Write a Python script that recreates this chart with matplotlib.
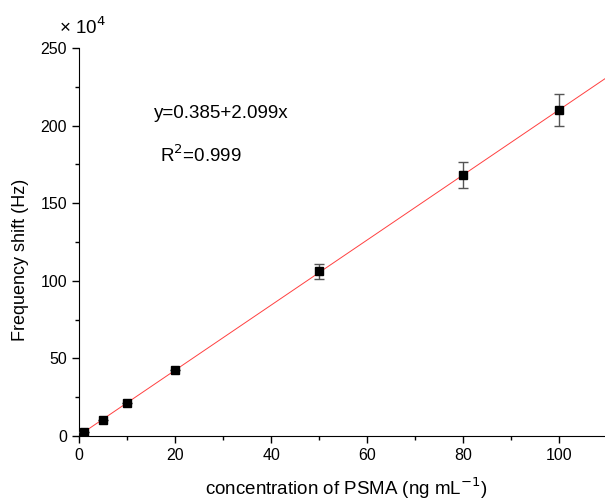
import numpy as np
import matplotlib.pyplot as plt

plt.rcParams['font.family'] = ['Liberation Sans', 'DejaVu Sans']

conc = [1, 5, 10, 20, 50, 80, 100]            # ng/mL
shift = [2.5, 10, 21.5, 42.5, 106, 168, 210]  # x10^4 Hz
err = [0, 0, 0, 0, 5, 8.5, 10.5]
intercept, slope = 0.385, 2.099

fig = plt.figure(figsize=(6.05, 5), dpi=100)
ax = fig.add_axes([0.1306, 0.128, 0.8694, 0.776])

xfit = np.array([0, 110])
ax.plot(xfit, intercept + slope * xfit, color='#ff4040', lw=0.7, zorder=2)
ax.errorbar(conc, shift, yerr=err, fmt='none', ecolor='#555555', elinewidth=1,
            capsize=3.5, capthick=1, zorder=3)
ax.plot(conc, shift, 's', color='black', ms=6, zorder=4)

ax.set_xlim(0, 109.5)
ax.set_ylim(0, 250)
ax.set_xticks([0, 20, 40, 60, 80, 100])
ax.set_xticks([10, 30, 50, 70, 90], minor=True)
ax.set_yticks([0, 50, 100, 150, 200, 250])
ax.set_yticks([25, 75, 125, 175, 225], minor=True)
ax.spines['top'].set_visible(False)
ax.spines['right'].set_visible(False)
ax.tick_params(which='major', direction='out', length=5, width=1, labelsize=11.5)
ax.tick_params(which='minor', direction='out', length=3, width=1)

ax.set_xlabel('concentration of PSMA (ng mL$^{-1}$)', fontsize=13.5)
ax.set_ylabel('Frequency shift (Hz)', fontsize=13)
ax.xaxis.set_label_coords(0.508, -0.103)
ax.yaxis.set_label_coords(-0.095, 0.454)
fig.text(0.097, 0.945, '× 10$^4$', fontsize=13.5, ha='left', va='center')

ax.text(15.7, 208, 'y=0.385+2.099x', fontsize=13.5, ha='left', va='center')
ax.text(16.8, 181, 'R$^2$=0.999', fontsize=13.5, ha='left', va='center')

plt.savefig('out.png', dpi=100)
